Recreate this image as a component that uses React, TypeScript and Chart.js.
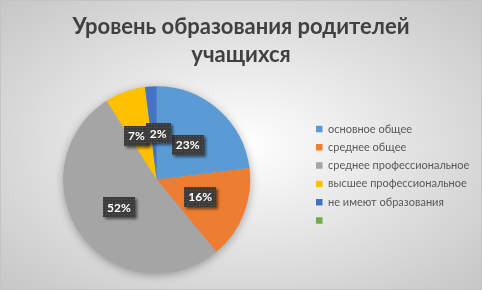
import React, { useEffect, useRef } from 'react';
import { Chart, registerables } from 'chart.js';

Chart.register(...registerables);

const categories = [
  'основное общее',
  'среднее общее',
  'среднее профессиональное',
  'высшее профессиональное',
  'не имеют образования',
  '',
];
const values = [23, 16, 52, 7, 2, 0];
const colors = ['#5B9BD5', '#ED7D31', '#A5A5A5', '#FFC000', '#4472C4', '#70AD47'];
const titleLines = ['Уровень образования родителей', 'учащихся'];

const FONT = "Lato, 'Liberation Sans', sans-serif";

const bgPlugin = {
  id: 'bgGradient',
  beforeDraw(chart: any) {
    const { ctx, width, height } = chart;
    ctx.save();
    ctx.translate(width / 2, height / 2);
    ctx.scale(1, height / width);
    const r = (width / 2) * Math.SQRT2;
    const g = ctx.createRadialGradient(0, 0, 0, 0, 0, r);
    g.addColorStop(0, '#ffffff');
    g.addColorStop(1, '#c6c6c6');
    ctx.fillStyle = g;
    ctx.fillRect(-width / 2, -width / 2, width, width);
    ctx.restore();
    ctx.save();
    ctx.strokeStyle = '#c4c4c4';
    ctx.lineWidth = 1;
    ctx.strokeRect(0.5, 0.5, width - 1, height - 1);
    ctx.restore();
  },
};

const pieShadowPlugin = {
  id: 'pieShadow',
  beforeDatasetsDraw(chart: any) {
    const meta = chart.getDatasetMeta(0);
    const arc = meta.data[0];
    if (!arc) return;
    const { x, y, outerRadius } = arc.getProps(['x', 'y', 'outerRadius'], true);
    const ctx = chart.ctx;
    ctx.save();
    ctx.shadowColor = 'rgba(0,0,0,0.35)';
    ctx.shadowBlur = 10;
    ctx.shadowOffsetX = 0;
    ctx.shadowOffsetY = 2;
    ctx.fillStyle = '#a5a5a5';
    ctx.beginPath();
    ctx.arc(x, y, outerRadius - 0.5, 0, Math.PI * 2);
    ctx.fill();
    ctx.restore();
  },
};

let dotPattern: any = null;
function getPattern(ctx: CanvasRenderingContext2D) {
  if (dotPattern) return dotPattern;
  const c = document.createElement('canvas');
  c.width = 3;
  c.height = 3;
  const p = c.getContext('2d')!;
  p.fillStyle = '#3c3c3c';
  p.fillRect(0, 0, 3, 3);
  p.fillStyle = '#555555';
  p.fillRect(1, 1, 1, 1);
  dotPattern = ctx.createPattern(c, 'repeat');
  return dotPattern;
}

const labelPlugin = {
  id: 'pctLabels',
  afterDatasetsDraw(chart: any) {
    const ctx = chart.ctx;
    const meta = chart.getDatasetMeta(0);
    const data = chart.data.datasets[0].data as number[];
    const total = data.reduce((a, b) => a + b, 0);
    ctx.save();
    ctx.font = `bold 12px ${FONT}`;
    const boxes: any[] = [];
    meta.data.forEach((arc: any, i: number) => {
      const v = data[i];
      if (!v) return;
      const pos = arc.tooltipPosition(true);
      const text = Math.round((v / total) * 100) + '%';
      const w = ctx.measureText(text).width + 8;
      const h = 20;
      boxes.push({ x: pos.x, y: pos.y, w, h, text });
    });
    for (let k = 1; k < boxes.length; k++) {
      const a = boxes[k - 1];
      const b = boxes[k];
      const need = (a.w + b.w) / 2 - 3;
      const dx = b.x - a.x;
      if (Math.abs(dx) < need && Math.abs(b.y - a.y) < (a.h + b.h) / 2) {
        const shift = (need - Math.abs(dx)) / 2;
        const s = dx >= 0 ? 1 : -1;
        a.x -= s * shift;
        b.x += s * shift;
      }
    }
    boxes.forEach((b) => {
      ctx.save();
      ctx.shadowColor = 'rgba(0,0,0,0.55)';
      ctx.shadowBlur = 3;
      ctx.shadowOffsetX = 2;
      ctx.shadowOffsetY = 2;
      ctx.fillStyle = getPattern(ctx);
      ctx.fillRect(Math.round(b.x - b.w / 2), Math.round(b.y - b.h / 2), Math.round(b.w), b.h);
      ctx.restore();
      ctx.fillStyle = '#ffffff';
      ctx.textAlign = 'center';
      ctx.textBaseline = 'middle';
      ctx.fillText(b.text, b.x, b.y + 0.5);
    });
    ctx.restore();
  },
};

export default function App() {
  const ref = useRef<HTMLCanvasElement>(null);
  useEffect(() => {
    document.body.style.margin = '0';
    const chart = new Chart(ref.current!, {
      type: 'pie',
      data: {
        labels: categories,
        datasets: [
          {
            data: values,
            backgroundColor: colors,
            borderWidth: 0,
          },
        ],
      },
      options: {
        responsive: false,
        animation: false,
        devicePixelRatio: 1,
        layout: { padding: { left: 4.7, right: 4.7, top: 0, bottom: 16.7 } },
        plugins: {
          title: {
            display: true,
            text: titleLines,
            color: '#404040',
            font: { family: FONT, size: 22, weight: 'bold', lineHeight: 28.4 / 22 },
            padding: { top: 12.5, bottom: 17 },
          },
          legend: {
            position: 'right',
            align: 'start',
            fullSize: false,
            maxWidth: 168.6,
            title: { display: true, text: '', padding: 7.75, font: { family: FONT, size: 12, lineHeight: 1.2 } },
            labels: {
              color: '#595959',
              font: { family: FONT, size: 11 },
              boxWidth: 6.5,
              boxHeight: 6.5,
              padding: 7.3,
            },
          },
          tooltip: { enabled: false },
        },
      },
      plugins: [bgPlugin, pieShadowPlugin, labelPlugin],
    });
    return () => chart.destroy();
  }, []);
  return (
    <div style={{ position: 'absolute', left: 0, top: 0, width: 482, height: 290 }}>
      <canvas ref={ref} width={482} height={290} />
    </div>
  );
}
